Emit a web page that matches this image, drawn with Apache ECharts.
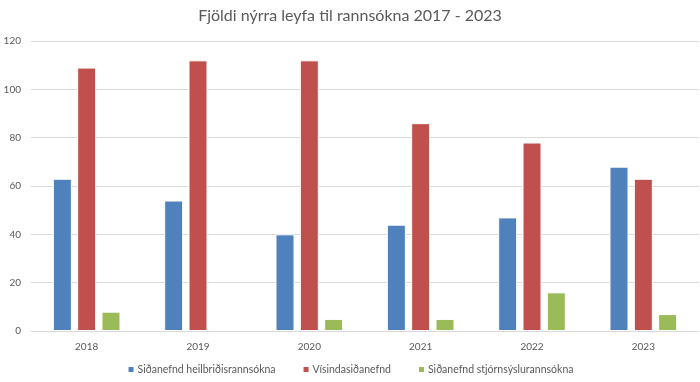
<!DOCTYPE html>
<html>
<head>
<meta charset="utf-8">
<script src="https://cdn.jsdelivr.net/npm/echarts@6/dist/echarts.min.js"></script>
<style>html,body{margin:0;padding:0;background:#fff}#c{width:700px;height:382px}</style>
</head>
<body>
<div id="c"></div>
<script>
const title = "Fjöldi nýrra leyfa til rannsókna 2017 - 2023";
const years = ["2018", "2019", "2020", "2021", "2022", "2023"];
const seriesNames = ["Siðanefnd heilbriðisrannsókna", "Vísindasiðanefnd", "Siðanefnd stjórnsýslurannsókna"];
const heilbrigdis = [63, 54, 40, 44, 47, 68];
const visinda = [109, 112, 112, 86, 78, 63];
const stjornsyslu = [8, null, 5, 5, 16, 7];
const yTicks = [0, 20, 40, 60, 80, 100, 120];
const colors = ["#4F81BD", "#C0504D", "#9BBB59"];
const font = "Lato";

const chart = echarts.init(document.getElementById('c'), null, {renderer: 'canvas'});
const mk = (name, data, i) => ({
  name, type: 'bar', data,
  barWidth: 19, barGap: '28%',
  itemStyle: {color: colors[i], borderColor: '#ffffff', borderWidth: 1},
  animation: false
});
chart.setOption({
  animation: false,
  title: {text: title, left: 'center', top: 3,
    textStyle: {fontFamily: font, fontSize: 16, fontWeight: 'normal', color: '#595959'}},
  grid: {left: 31, right: 1, top: 41, bottom: 51},
  legend: {bottom: 2, left: 'center', itemWidth: 7, itemHeight: 7, itemGap: 26,
    icon: 'rect', data: seriesNames,
    textStyle: {fontFamily: font, fontSize: 10.5, color: '#595959', padding: [0,0,0,-2]}},
  xAxis: {type: 'category', data: years,
    axisLine: {lineStyle: {color: '#d9d9d9'}}, axisTick: {show: false},
    axisLabel: {fontFamily: font, fontSize: 10, color: '#595959', margin: 11}},
  yAxis: {type: 'value', min: yTicks[0], max: yTicks[yTicks.length-1], interval: yTicks[1]-yTicks[0],
    axisLine: {show: false}, axisTick: {show: false},
    splitLine: {lineStyle: {color: '#d9d9d9'}},
    axisLabel: {fontFamily: font, fontSize: 10, color: '#595959', margin: 10}},
  series: [mk(seriesNames[0], heilbrigdis, 0), mk(seriesNames[1], visinda, 1), mk(seriesNames[2], stjornsyslu, 2)]
});
</script>
</body>
</html>
